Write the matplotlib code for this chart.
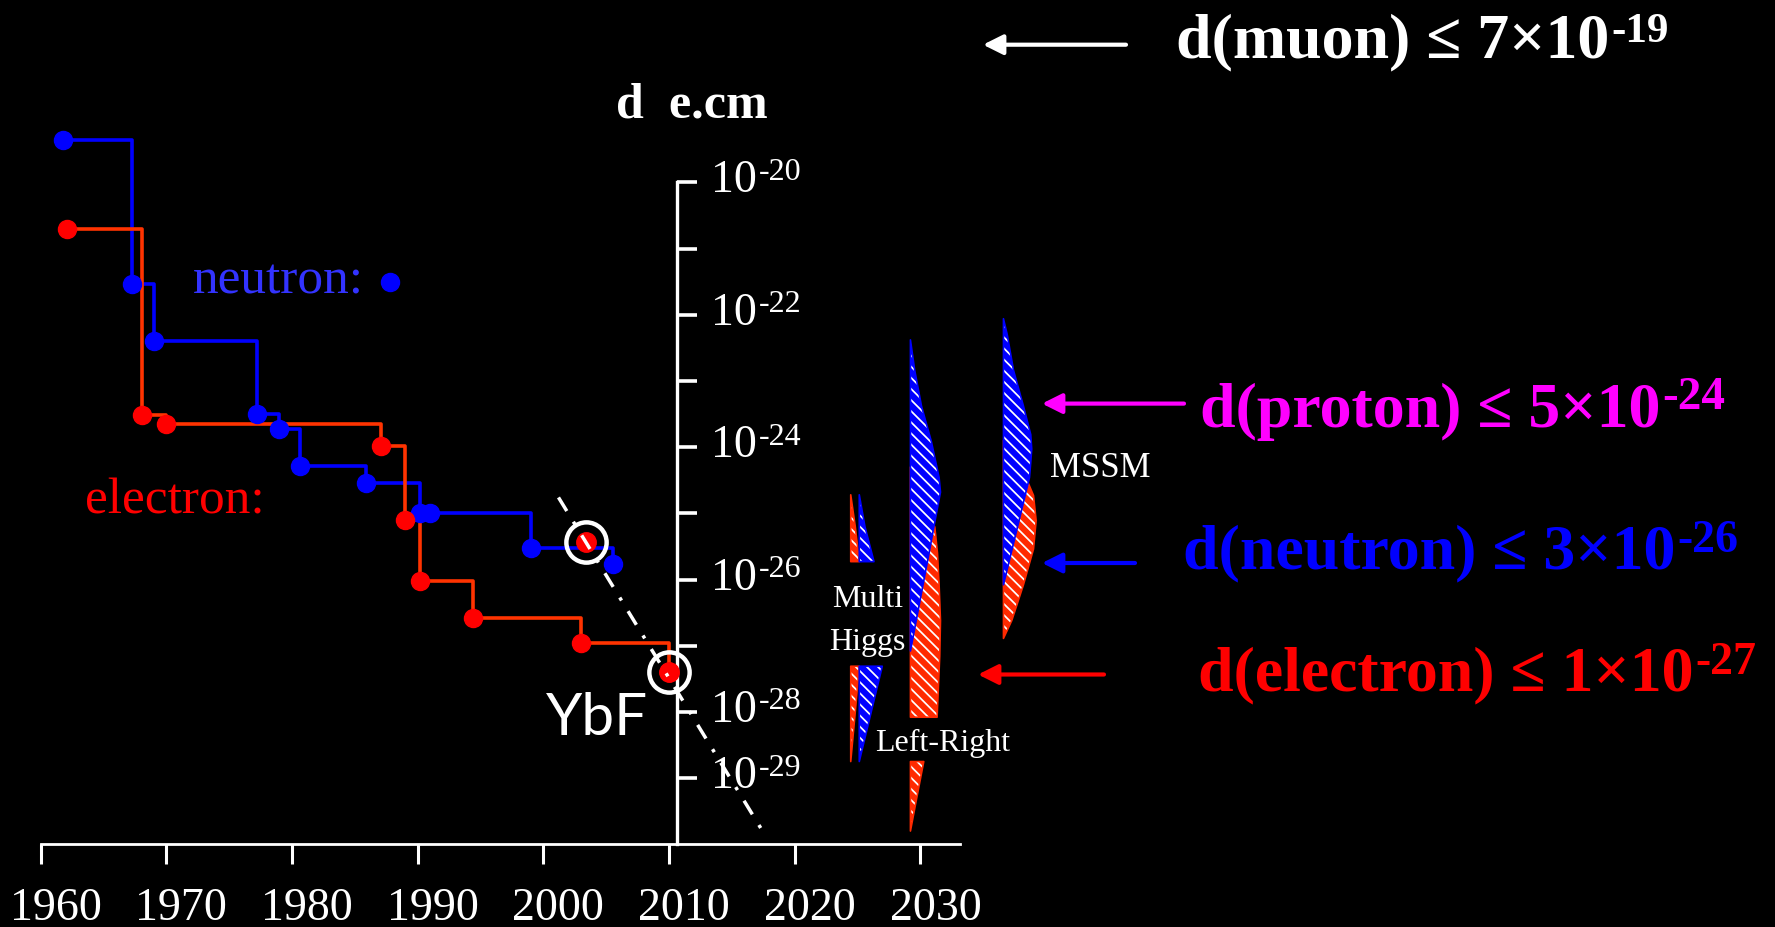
import numpy as np
import matplotlib.pyplot as plt
from matplotlib.ticker import FixedLocator, NullLocator, NullFormatter
from matplotlib.transforms import ScaledTranslation

plt.rcParams['font.family'] = ['Liberation Serif', 'DejaVu Serif']
plt.rcParams['hatch.linewidth'] = 1.25

# EDM upper limits vs year, log10(d / e.cm)
n_year = [1961.75, 1967.25, 1969.0, 1977.2, 1979.0, 1980.6, 1985.9, 1990.2, 1991.0, 1999.0, 2005.5]
n_logd = [-19.36, -21.53, -22.39, -23.50, -23.73, -24.28, -24.54, -25.0, -25.0, -25.52, -25.77]

e_year = [1962.1, 1968.1, 1970.0, 1987.1, 1989.0, 1990.2, 1994.4, 2003.0, 2010.0]
e_logd = [-20.71, -23.52, -23.65, -23.98, -25.10, -26.02, -26.58, -26.96, -27.39]

# YbF results and the projection through them
ybf_year = [2003.4, 2010.0]
ybf_logd = [-25.43, -27.39]
trend_year = [2001.2, 2017.6]
trend_logd = [-24.76, -29.85]

# model predictions, one-sided profiles: log10 d and width (years); nan = gap under a label
mh_red_logd = [-24.72, -25.2, -25.73, -26.5, -27.31, -28.0, -28.75]
mh_red_w = [0, 0.36, 0.68, np.nan, 0.68, 0.36, 0]
mh_blue_logd = [-24.72, -25.2, -25.73, -26.5, -27.31, -28.0, -28.75]
mh_blue_w = [0, 0.45, 1.17, np.nan, 1.83, 0.95, 0]

lr_blue_logd = [-22.38, -22.84, -23.38, -23.92, -24.46, -24.68, -25.21, -25.54, -26.08, -26.6, -27.08]
lr_blue_w = [0, 0.34, 0.88, 1.67, 2.28, 2.39, 1.86, 1.54, 1.0, 0.48, 0]
lr_red_logd = [-24.3, -24.7, -25.21, -25.6, -26.08, -26.62, -27.16, -28.08, -28.4, -28.75, -29.32, -29.8]
lr_red_w = [0, 0.8, 1.94, 2.15, 2.28, 2.39, 2.33, 2.12, np.nan, 1.06, 0.48, 0]

mssm_blue_logd = [-22.06, -22.3, -22.84, -23.38, -23.81, -24.03, -24.35, -24.46, -25.0, -25.54, -26.08]
mssm_blue_w = [0, 0.3, 0.8, 1.59, 2.17, 2.25, 2.12, 2.07, 1.38, 0.69, 0]
mssm_red_logd = [-23.9, -24.3, -24.73, -25.11, -25.54, -26.08, -26.62, -26.89]
mssm_red_w = [0, 1.43, 2.39, 2.6, 2.39, 1.59, 0.66, 0]

years = list(range(1960, 2031, 10))
decades = list(range(-20, -30, -1))
labelled = [-20, -22, -24, -26, -28, -29]

W, H = 1775, 928


def d(logs):
    return np.power(10.0, np.asarray(logs, dtype=float))


def at(x, y):
    # canvas pixels (from top-left) -> figure fraction
    return x / W, 1 - y / H


fig = plt.figure(figsize=(W / 100, H / 100), dpi=100, facecolor='black')
ax = fig.add_axes([0, 0, 1, 1], facecolor='black')
ax.set_yscale('log')
ax.set_xlim(1956.77, 2097.98)
ax.set_ylim(10 ** -31.249, 10 ** -17.231)

# axes: x along the bottom, d axis standing at ~2010.6
for s in ['left', 'top']:
    ax.spines[s].set_visible(False)
ax.spines['bottom'].set_position(('data', 1e-30))
ax.spines['bottom'].set_bounds(1960, 2033.15)
ax.spines['bottom'].set_color('white')
ax.spines['bottom'].set_linewidth(2.0)
ax.spines['right'].set_position(('data', 2010.63))
ax.spines['right'].set_bounds(1e-30, 1e-20)
ax.spines['right'].set_color('white')
ax.spines['right'].set_linewidth(2.4)

ax.set_xticks(years)
ax.tick_params(axis='x', direction='out', length=14.4, width=2.2, color='white',
               labelsize=33, labelcolor='white', pad=16)
shift = ScaledTranslation(15 / 100, 0, fig.dpi_scale_trans)
for lab in ax.get_xticklabels():
    lab.set_transform(lab.get_transform() + shift)

ax.yaxis.set_ticks_position('right')
ax.yaxis.set_major_locator(FixedLocator(d(decades)))
ax.yaxis.set_minor_locator(NullLocator())
ax.yaxis.set_major_formatter(NullFormatter())
ax.tick_params(axis='y', direction='out', length=14.4, width=2.6, color='white')


def power_label(text_base, exp, xy, xycoords, offset, size, sup_size, color,
                weight='normal', rise=1.5):
    t = ax.annotate(text_base, xy=xy, xycoords=xycoords, xytext=offset,
                    textcoords='offset points', fontsize=size, color=color,
                    fontweight=weight, ha='left', va='baseline', annotation_clip=False)
    ax.annotate(exp, xy=(1, 1), xycoords=t, xytext=(1.5, rise),
                textcoords='offset points', fontsize=sup_size, color=color,
                fontweight=weight, ha='left', va='top', annotation_clip=False)
    return t


for e in labelled:
    power_label('10', f'{e}', (2010.63, 10.0 ** e), 'data', (24.5, -6.5), 33, 23, 'white')

fig.text(*at(616, 118), 'd  e.cm', fontsize=36, fontweight='bold', color='white')

# theory predictions (hatched half-profiles)
def profile(x0, logd, width, color, z):
    y = d(logd)
    x2 = x0 + np.asarray(width, dtype=float)
    ax.fill_betweenx(y, x0, x2, facecolor=color, edgecolor='white', hatch='\\\\\\',
                     linewidth=0, zorder=z)
    ax.fill_betweenx(y, x0, x2, facecolor='none', edgecolor=color, linewidth=1.2, zorder=z)


profile(2024.45, mh_red_logd, mh_red_w, '#ff2a00', 2.0)
profile(2025.13, mh_blue_logd, mh_blue_w, '#0000ff', 2.1)
profile(2029.2, lr_red_logd, lr_red_w, '#ff2a00', 2.0)
profile(2029.2, lr_blue_logd, lr_blue_w, '#0000ff', 2.1)
profile(2036.6, mssm_red_logd, mssm_red_w, '#ff2a00', 2.0)
profile(2036.6, mssm_blue_logd, mssm_blue_w, '#0000ff', 2.1)

fig.text(*at(832, 607), 'Multi', fontsize=23, color='white')
fig.text(*at(829, 650), 'Higgs', fontsize=23, color='white')
fig.text(*at(875, 751), 'Left-Right', fontsize=23, color='white')
fig.text(*at(1050, 477), 'MSSM', fontsize=25, color='white')

# measured limits
ax.plot(n_year, d(n_logd), drawstyle='steps-post', color='#0000ff', lw=2.6, zorder=3)
ax.plot(n_year, d(n_logd), 'o', color='#0000ff', ms=13, zorder=4)
ax.plot(e_year, d(e_logd), drawstyle='steps-post', color='#ff3300', lw=2.6, zorder=3.2)
ax.plot(e_year, d(e_logd), 'o', color='#ff0000', ms=13, zorder=4)

ax.plot(ybf_year, d(ybf_logd), 'o', color='#ff0000', ms=14, zorder=5)
ax.plot(ybf_year, d(ybf_logd), 'o', mfc='none', mec='white', mew=3.2, ms=29, zorder=5)
ax.plot(trend_year, d(trend_logd), color='white', lw=2.5,
        ls=(0, (4.6, 3.6, 1.0, 3.6)), zorder=7)

fig.text(*at(546, 735), 'YbF', fontsize=42, color='white', family='Lato')

fig.text(*at(193, 293), 'neutron:', fontsize=37, color='#3333ff')
ax.plot([389.5 / W], [1 - 282.5 / H], 'o', color='#0000ff', ms=13,
        transform=ax.transAxes, clip_on=False)
fig.text(*at(85, 514), 'electron:', fontsize=37, color='#ff0000')

# current limits, with pointers
limits = [
    ('d(muon) \u2264 7\u00d710', '-19', 'white', (1176, 57), 31, 0.0),
    ('d(proton) \u2264 5\u00d710', '-24', '#ff00ff', (1200, 427), 34, 4.3),
    ('d(neutron) \u2264 3\u00d710', '-26', '#0000ff', (1183, 568), 33, 2.9),
    ('d(electron) \u2264 1\u00d710', '-27', '#ff0000', (1198, 690), 33, 2.9),
]
for base, exp, col, pos, sup, rise in limits:
    power_label(base, exp, at(*pos), 'figure fraction', (0, 0), 46, sup, col,
                weight='bold', rise=rise)

pointers = [
    ('white', (1126, 45.7), (983, 45.7)),
    ('#ff00ff', (1184, 404.6), (1042, 404.6)),
    ('#0000ff', (1135, 564), (1042, 564)),
    ('#ff0000', (1104, 675.5), (978, 675.5)),
]
for col, tail, tip in pointers:
    ax.annotate('', xy=at(*tip), xycoords='figure fraction', xytext=at(*tail),
                textcoords='figure fraction',
                arrowprops=dict(arrowstyle='-|>,head_length=0.6,head_width=0.3',
                                mutation_scale=20, lw=3, color=col,
                                shrinkA=0, shrinkB=0))

fig.savefig('out.png', dpi=100, facecolor='black')
